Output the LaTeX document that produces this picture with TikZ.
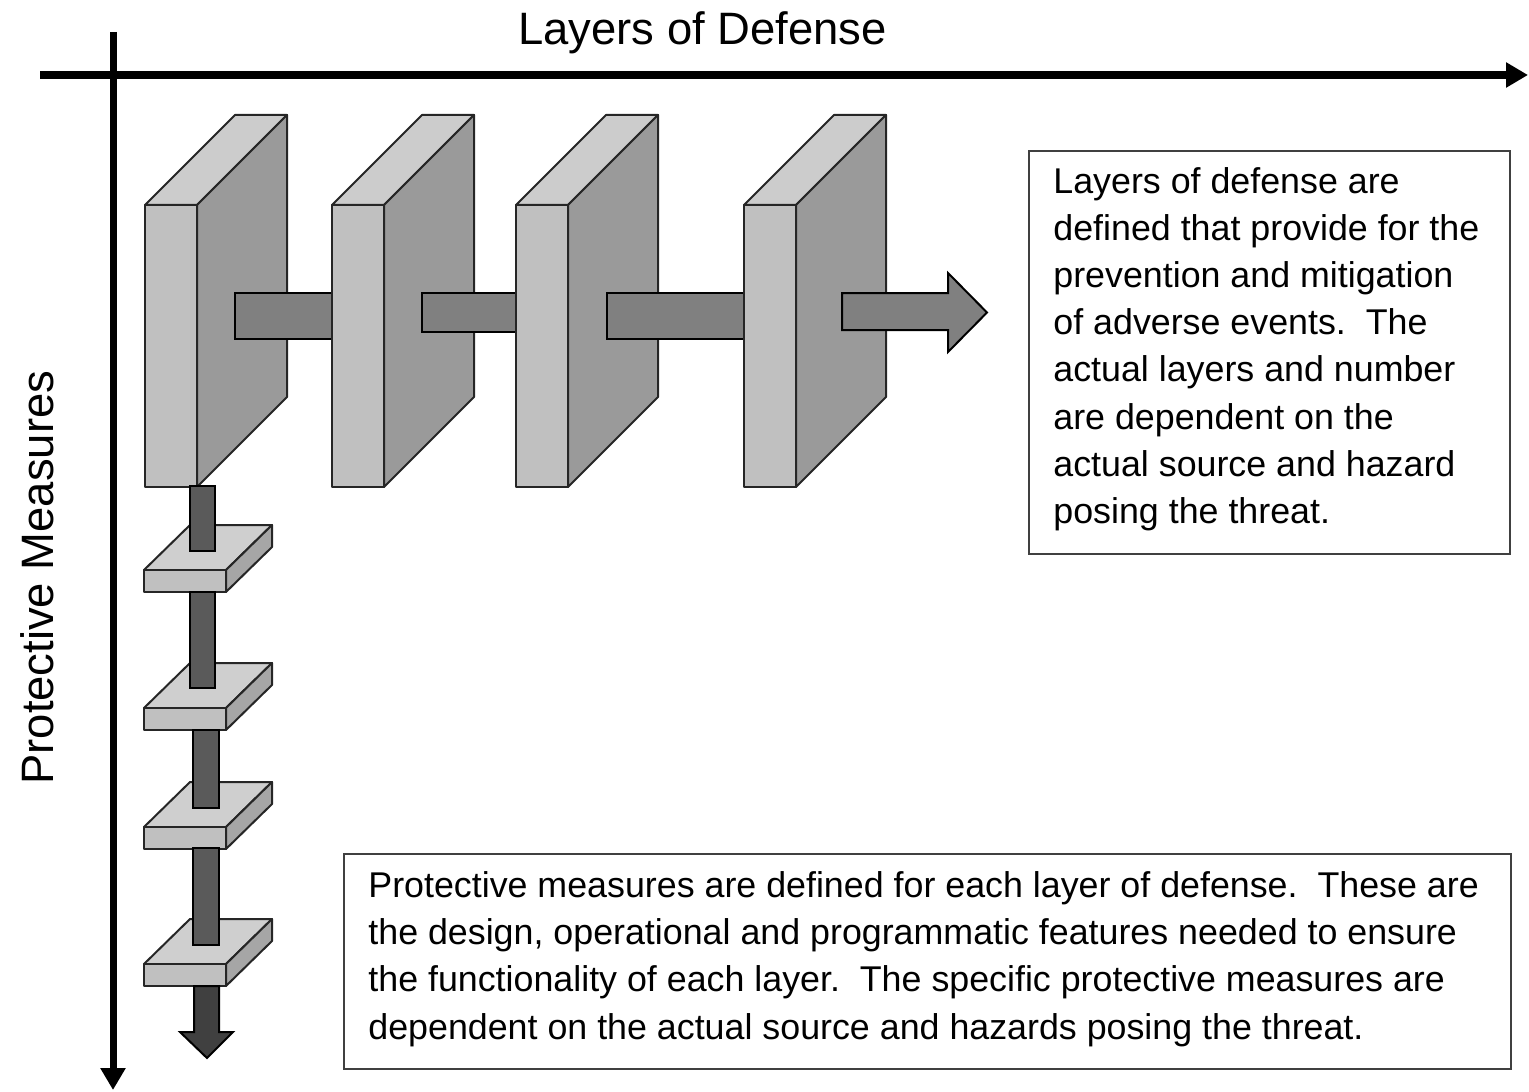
\documentclass[tikz,border=0pt]{standalone}
\usepackage{fontspec}
\setmainfont{Liberation Sans}
\usetikzlibrary{arrows.meta}
\definecolor{wallfront}{HTML}{C0C0C0}
\definecolor{walltop}{HTML}{CCCCCC}
\definecolor{wallside}{HTML}{9A9A9A}
\definecolor{hbarfill}{HTML}{808080}
\definecolor{vbarfill}{HTML}{5A5A5A}
\definecolor{downfill}{HTML}{404040}
\definecolor{platetop}{HTML}{CFCFCF}
\definecolor{platefront}{HTML}{C0C0C0}
\definecolor{plateside}{HTML}{A6A6A6}
\definecolor{edgecol}{HTML}{262626}
\definecolor{boxedge}{HTML}{404040}
\begin{document}
\begin{tikzpicture}[x=0.5pt,y=-0.5pt,
  face/.style={draw=edgecol, line width=1pt, line join=round},
  barshape/.style={draw=black, line width=1pt, line join=miter},
  axisline/.style={draw=black, line width=4pt, -{Triangle[length=11pt,width=12pt]}},
  vaxisline/.style={draw=black, line width=3.5pt, -{Triangle[length=11pt,width=12pt]}},
  bodytext/.style={inner sep=0pt, anchor=base west, font=\fontsize{17.9pt}{21pt}\selectfont},
  bigtext/.style={inner sep=0pt, anchor=base west, font=\fontsize{22.7pt}{26pt}\selectfont},
  textbox/.style={draw=boxedge, line width=1pt, inner sep=0pt, anchor=north west},
  wall/.pic={
    \path[face, fill=walltop] (0,205) -- (90,115) -- (142,115) -- (52,205) -- cycle;
    \path[face, fill=wallside] (52,205) -- (142,115) -- (142,397) -- (52,487) -- cycle;
    \path[face, fill=wallfront] (0,205) rectangle (52,487);
  },
  plate/.pic={
    \path[face, fill=platetop] (0,0) -- (46,-45) -- (128,-45) -- (82,0) -- cycle;
    \path[face, fill=plateside] (82,0) -- (128,-45) -- (128,-23) -- (82,22) -- cycle;
    \path[face, fill=platefront] (0,0) rectangle (82,22);
  }]
\useasboundingbox (0,0) rectangle (1529,1091);

% axes
\coordinate (hstart) at (40,75);
\coordinate (hend) at (1528,75);
\coordinate (vstart) at (113,32);
\coordinate (vend) at (113,1090);
\draw[axisline] (hstart) -- (hend);
\draw[vaxisline] (vstart) -- (vend);

\node[bigtext] (title) at (518,45) {Layers of Defense};
\node[bigtext, rotate=90] (ylabel) at (53,785) {Protective Measures};

% first wall
\pic (w1) at (145,0) {wall};

% plates
\pic (pl1) at (144,570) {plate};
\pic (pl2) at (144,708) {plate};
\pic (pl3) at (144,827) {plate};
\pic (pl4) at (144,964) {plate};

% vertical bars
\path[barshape, fill=vbarfill] (190,486) rectangle (215,551);
\path[barshape, fill=vbarfill] (190,592) rectangle (215,688);
\path[barshape, fill=vbarfill] (193,730) rectangle (219,808);
\path[barshape, fill=vbarfill] (193,848) rectangle (219,945);
\path[barshape, fill=downfill] (194,986) -- (219,986) -- (219,1032) -- (233,1032)
  -- (207,1058) -- (180,1032) -- (194,1032) -- cycle;

% horizontal bars and walls
\path[barshape, fill=hbarfill] (235,293) rectangle (333,339);
\pic (w2) at (332,0) {wall};
\path[barshape, fill=hbarfill] (422,293) rectangle (517,332);
\pic (w3) at (516,0) {wall};
\path[barshape, fill=hbarfill] (607,293) rectangle (745,339);
\pic (w4) at (744,0) {wall};
\path[barshape, fill=hbarfill] (842,293) -- (948,293) -- (948,273) -- (987,312.5)
  -- (948,352) -- (948,330) -- (842,330) -- cycle;

% text box 1
\node[textbox, minimum width=240.5pt, minimum height=201.5pt] (box1) at (1028,150) {};
\node[bodytext] (a1) at (1053,193.3) {Layers of defense are};
\node[bodytext] (a2) at (1053,240.4) {defined that provide for the};
\node[bodytext] (a3) at (1053,287.6) {prevention and mitigation};
\node[bodytext] (a4) at (1053,334.7) {of adverse events.\ \ The};
\node[bodytext] (a5) at (1053,381.9) {actual layers and number};
\node[bodytext] (a6) at (1053,429.0) {are dependent on the};
\node[bodytext] (a7) at (1053,476.1) {actual source and hazard};
\node[bodytext] (a8) at (1053,523.3) {posing the threat.};

% text box 2
\node[textbox, minimum width=583.5pt, minimum height=107.5pt] (box2) at (343,853) {};
\node[bodytext] (b1) at (368,897) {Protective measures are defined for each layer of defense.\ \ These are};
\node[bodytext] (b2) at (368,944.4) {the design, operational and programmatic features needed to ensure};
\node[bodytext] (b3) at (368,991.8) {the functionality of each layer.\ \ The specific protective measures are};
\node[bodytext] (b4) at (368,1039.2) {dependent on the actual source and hazards posing the threat.};
\end{tikzpicture}
\end{document}
